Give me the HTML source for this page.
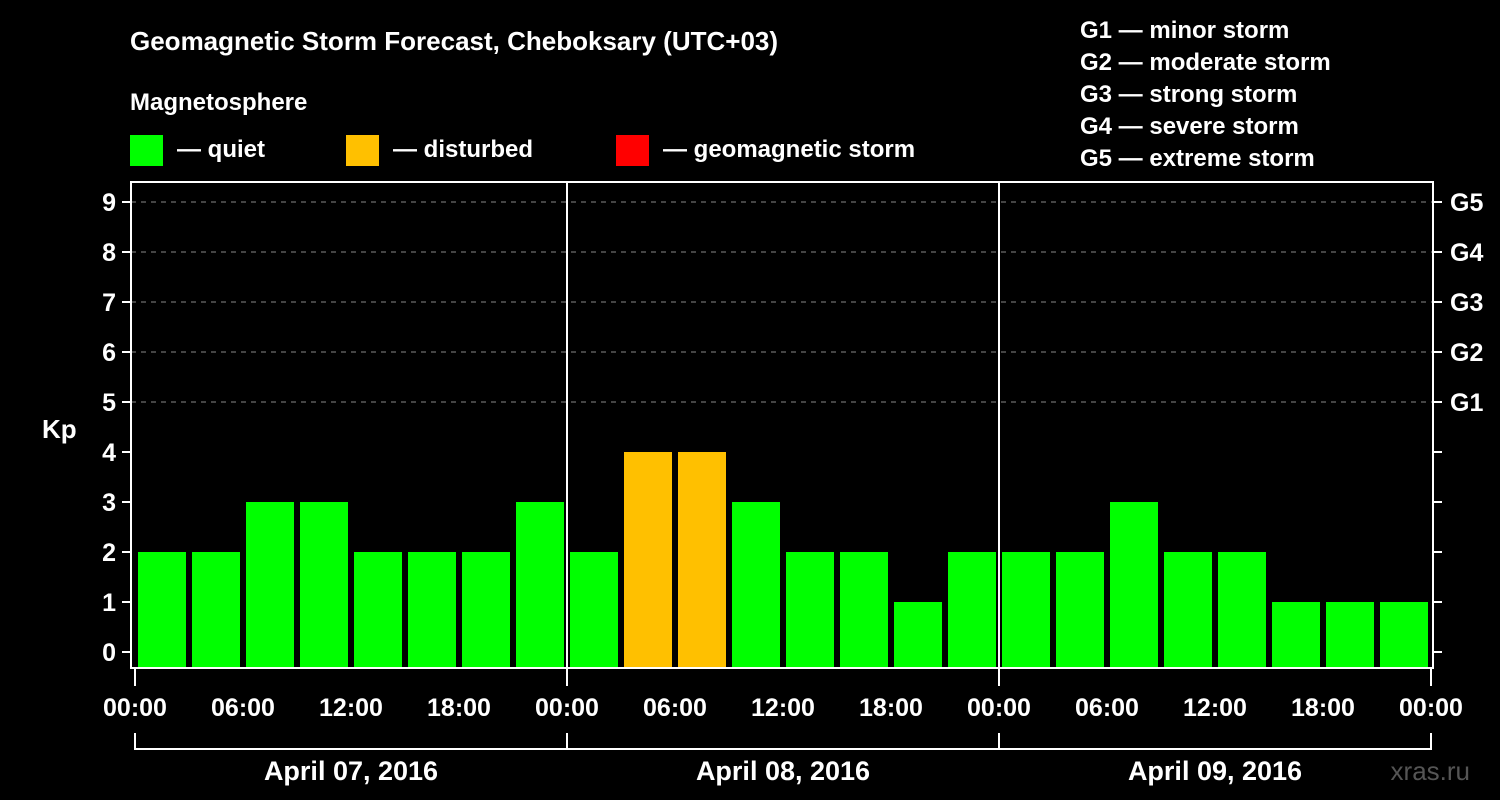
<!DOCTYPE html>
<html><head><meta charset="utf-8"><style>
body{margin:0;background:#000;width:1500px;height:800px;overflow:hidden}
svg{display:block;font-family:"Liberation Sans",sans-serif;font-weight:bold}
</style></head><body>
<svg id="c" width="1500" height="800" xmlns="http://www.w3.org/2000/svg">
<rect width="1500" height="800" fill="#000"/>
<text x="130" y="50" fill="#fff" font-size="26">Geomagnetic Storm Forecast, Cheboksary (UTC+03)</text>
<text x="130" y="110" fill="#fff" font-size="24">Magnetosphere</text>
<g>
<rect x="130" y="135" width="33" height="31" fill="#00ff00"/>
<text x="177" y="157" fill="#fff" font-size="24">— quiet</text>
<rect x="346" y="135" width="33" height="31" fill="#ffc000"/>
<text x="393" y="157" fill="#fff" font-size="24">— disturbed</text>
<rect x="616" y="135" width="33" height="31" fill="#ff0000"/>
<text x="663" y="157" fill="#fff" font-size="24">— geomagnetic storm</text>
</g>
<g fill="#fff" font-size="24">
<text x="1080" y="38">G1 — minor storm</text>
<text x="1080" y="70">G2 — moderate storm</text>
<text x="1080" y="102">G3 — strong storm</text>
<text x="1080" y="134">G4 — severe storm</text>
<text x="1080" y="166">G5 — extreme storm</text>
</g>
<text x="42" y="438" fill="#fff" font-size="26">Kp</text>
<text x="1470" y="780" fill="#555" font-size="26" text-anchor="end" font-weight="normal">xras.ru</text>
<g id="plot"></g>
</svg>
<script>
const kpValues=[2,2,3,3,2,2,2,3, 2,4,4,3,2,2,1,2, 2,2,3,2,2,1,1,1];
const yTicks=[0,1,2,3,4,5,6,7,8,9];
const gLabels=["G1","G2","G3","G4","G5"];
const gLevels=[5,6,7,8,9];
const timeLabels=["00:00","06:00","12:00","18:00"];
const dayLabels=["April 07, 2016","April 08, 2016","April 09, 2016"];
const NS="http://www.w3.org/2000/svg";
const plot=document.getElementById('plot');
const x0=135, dayW=432, slotW=54;
const L=131,R=1433,T=182,B=668;
function y(v){return 652-50*v;}
function x(slot){return x0+slot*slotW;}
function mk(t,a,parent){const e=document.createElementNS(NS,t);for(const k in a)e.setAttribute(k,a[k]);(parent||plot).appendChild(e);return e;}
// grid
gLevels.forEach(v=>{const g=mk('line',{x1:L,x2:R,y1:y(v),y2:y(v),stroke:'#888','stroke-width':1,'stroke-dasharray':'5,5'});

});
// bars
kpValues.forEach((v,i)=>{const c=v>=5?'#ff0000':(v>=4?'#ffc000':'#00ff00');
const r=mk('rect',{x:x(i)+3,y:y(v),width:48,height:B-y(v),fill:c});

});
// frame
const f=mk('rect',{x:L,y:T,width:R-L,height:B-T,fill:'none',stroke:'#fff','stroke-width':2});


for(let d=1;d<3;d++){const l=mk('line',{x1:x0+d*dayW,x2:x0+d*dayW,y1:T,y2:B,stroke:'#fff','stroke-width':2});

}
// y ticks
yTicks.forEach(v=>{
const t=mk('line',{x1:122,x2:L,y1:y(v),y2:y(v),stroke:'#fff','stroke-width':2});


const t2=mk('line',{x1:R,x2:1442,y1:y(v),y2:y(v),stroke:'#fff','stroke-width':2});


const lb=mk('text',{x:116,y:y(v)+9,fill:'#fff','font-size':25,'text-anchor':'end'});lb.textContent=v;

});
gLabels.forEach((g,i)=>{const lb=mk('text',{x:1450,y:y(gLevels[i])+9,fill:'#fff','font-size':25});lb.textContent=g;

});
// x labels
for(let d=0;d<3;d++){for(let k=0;k<timeLabels.length+(d==2?1:0);k++){
const xx=x0+d*dayW+k*108;const lb=mk('text',{x:xx,y:716,fill:'#fff','font-size':25,'text-anchor':'middle'});lb.textContent=timeLabels[k%4];

}
const dl=mk('text',{x:x0+d*dayW+dayW/2,y:780,fill:'#fff','font-size':27,'text-anchor':'middle'});dl.textContent=dayLabels[d];

}
for(let d=0;d<=3;d++){const xx=x0+d*dayW;
const t=mk('line',{x1:xx,x2:xx,y1:B,y2:686,stroke:'#fff','stroke-width':2});


const b=mk('line',{x1:xx,x2:xx,y1:733,y2:750,stroke:'#fff','stroke-width':2});

}
const br=mk('line',{x1:x0,x2:x0+3*dayW,y1:749,y2:749,stroke:'#fff','stroke-width':2});


</script>
</body></html>
